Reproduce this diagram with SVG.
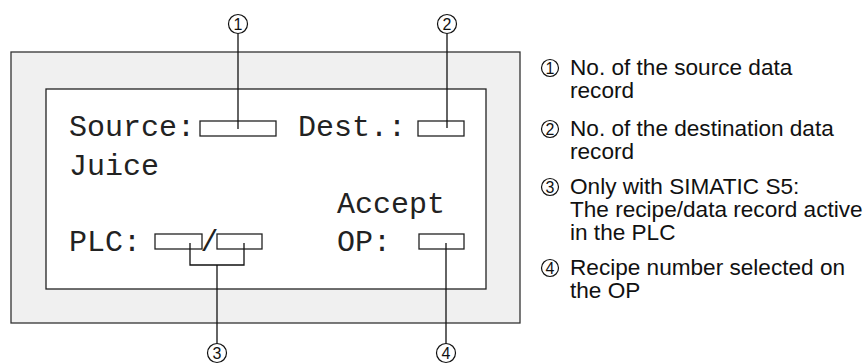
<svg xmlns="http://www.w3.org/2000/svg" width="863" height="364" viewBox="0 0 863 364">
<style>
.mono{font-family:"Liberation Mono","Courier New",monospace;font-size:30px;fill:#222}
.sans{font-family:"Liberation Sans",Arial,sans-serif;font-size:22.6px;fill:#111}
.num{font-family:"Liberation Sans",Arial,sans-serif;font-size:16px;fill:#111;text-anchor:middle}
.box{fill:#fff;stroke:#222;stroke-width:1.3}
.ln{fill:none;stroke:#111;stroke-width:1.3}
.circ{fill:#fff;stroke:#111;stroke-width:1.2}
</style>
<g id="panel">
<rect x="11" y="52" width="509" height="271" fill="#f0f0f0" stroke="#333" stroke-width="1.3"/>
<rect x="46" y="89" width="440" height="200" fill="#fff" stroke="#222" stroke-width="1.3"/>
</g>
<g id="screen-text">
<text class="mono" x="69" y="136">Source:</text>
<text class="mono" x="298" y="136">Dest.:</text>
<text class="mono" x="69" y="175">Juice</text>
<text class="mono" x="337" y="213">Accept</text>
<text class="mono" x="69" y="251">PLC:</text>
<text class="mono" x="209.5" y="251" text-anchor="middle" font-size="24">/</text>
<text class="mono" x="337" y="251">OP:</text>
</g>
<g id="fields">
<rect class="box" x="200" y="121" width="76" height="15"/>
<rect class="box" x="418" y="121" width="46" height="15"/>
<rect class="box" x="155" y="234" width="47" height="15"/>
<rect class="box" x="217" y="234" width="45" height="15"/>
<rect class="box" x="419" y="234" width="45" height="15"/>
</g>
<g id="connectors">
<line class="ln" x1="238" y1="33" x2="238" y2="129"/>
<line class="ln" x1="447" y1="33" x2="447" y2="128"/>
<polyline class="ln" points="190,243 190,265 244,265 244,243"/>
<line class="ln" x1="217" y1="265" x2="217" y2="344"/>
<line class="ln" x1="446" y1="243" x2="446" y2="344"/>
</g>
<g id="callout-1"><circle class="circ" cx="238" cy="24" r="9.5"/><text class="num" x="238" y="30">1</text></g>
<g id="callout-2"><circle class="circ" cx="447" cy="24" r="9.5"/><text class="num" x="447" y="30">2</text></g>
<g id="callout-3"><circle class="circ" cx="217" cy="353" r="9.5"/><text class="num" x="217" y="359">3</text></g>
<g id="callout-4"><circle class="circ" cx="446" cy="353" r="9.5"/><text class="num" x="446" y="359">4</text></g>
<g id="legend-1">
<circle class="circ" cx="550" cy="68" r="8.5"/><text class="num" x="550" y="73.5">1</text>
<text class="sans" x="570" y="75">No. of the source data</text>
<text class="sans" x="570" y="98">record</text>
</g>
<g id="legend-2">
<circle class="circ" cx="550" cy="129" r="8.5"/><text class="num" x="550" y="134.5">2</text>
<text class="sans" x="570" y="136">No. of the destination data</text>
<text class="sans" x="570" y="159">record</text>
</g>
<g id="legend-3">
<circle class="circ" cx="550" cy="187" r="8.5"/><text class="num" x="550" y="192.5">3</text>
<text class="sans" x="570" y="194">Only with SIMATIC S5:</text>
<text class="sans" x="570" y="217">The recipe/data record active</text>
<text class="sans" x="570" y="240">in the PLC</text>
</g>
<g id="legend-4">
<circle class="circ" cx="550" cy="268" r="8.5"/><text class="num" x="550" y="273.5">4</text>
<text class="sans" x="570" y="275">Recipe number selected on</text>
<text class="sans" x="570" y="298">the OP</text>
</g>
</svg>
